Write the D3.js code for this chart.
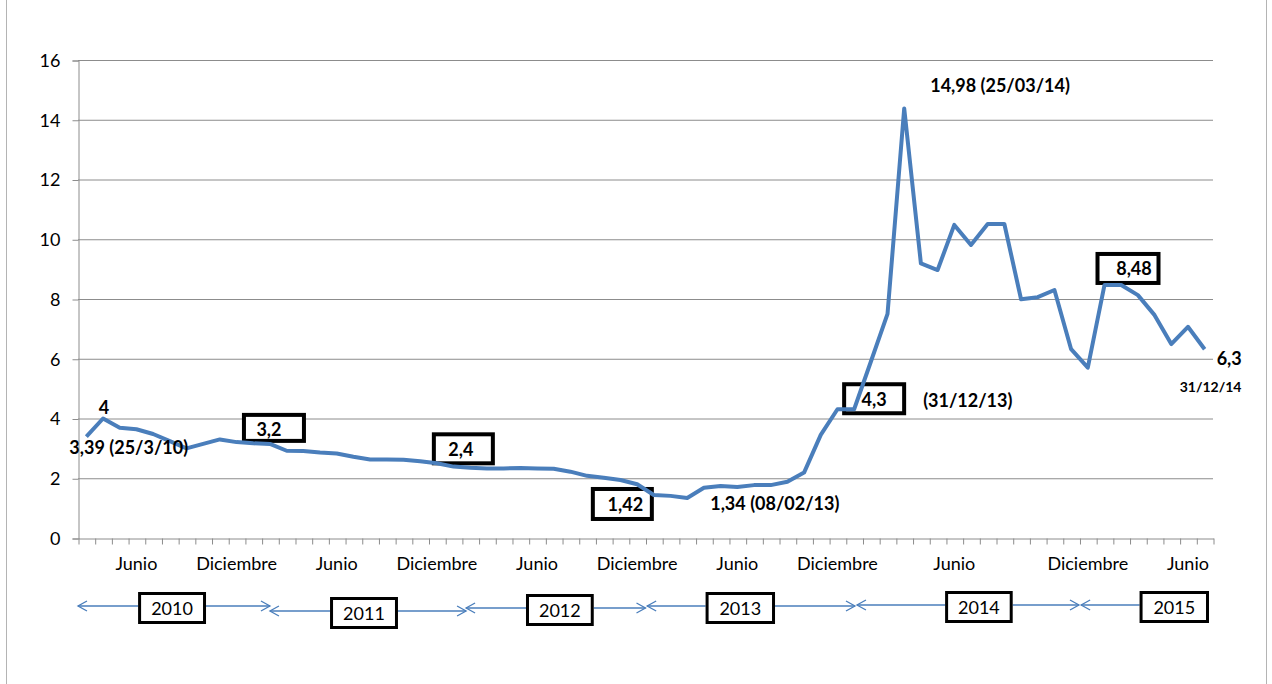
<!DOCTYPE html>
<html>
<head>
<meta charset="utf-8">
<script src="https://cdn.jsdelivr.net/npm/d3@7"></script>
<style>
  body { margin: 0; background: #fff; }
  text { font-family: Lato, "Open Sans", sans-serif; }
</style>
</head>
<body>
<script>
// monthly values, march 2010 .. (one per category on the axis)
const values = [
  3.39, 4.0, 3.69, 3.64, 3.48, 3.24, 3.0, 3.15, 3.3, 3.21,
  3.17, 3.15, 2.92, 2.91, 2.86, 2.83, 2.72, 2.63, 2.63, 2.62,
  2.57, 2.5, 2.39, 2.35, 2.33, 2.33, 2.34, 2.33, 2.32, 2.22,
  2.08, 2.02, 1.94, 1.8, 1.44, 1.41, 1.34, 1.68, 1.74, 1.71,
  1.77, 1.77, 1.88, 2.19, 3.45, 4.31, 4.31, 5.9, 7.5, 14.38,
  9.19, 8.97, 10.48, 9.81, 10.51, 10.51, 7.99, 8.06, 8.3, 6.32,
  5.7, 8.47, 8.47, 8.13, 7.46, 6.49, 7.07, 6.32
];
const junioIdx = [3, 15, 27, 39, 52, 66];
const diciembreIdx = [9, 21, 33, 45, 60];
const yTicks = [0, 2, 4, 6, 8, 10, 12, 14, 16];
const years = ["2010", "2011", "2012", "2013", "2014", "2015"];

const monthLabels = values.map(() => "");
junioIdx.forEach(i => monthLabels[i] = "Junio");
diciembreIdx.forEach(i => monthLabels[i] = "Diciembre");

// annotation layout (anchored to a point of the series)
const notes = [
  {i: 1, dx: 1, dy: -5, anchor: "middle", text: "4"},
  {i: 0, dx: -17, dy: 17, anchor: "start", text: "3,39 (25/3/10)"},
  {i: 36, dx: 23, dy: 12, anchor: "start", text: "1,34 (08/02/13)"},
  {i: 49, dx: 26, dy: -16, anchor: "start", text: "14,98 (25/03/14)"},
  {i: 46, dx: 69, dy: -2, anchor: "start", text: "(31/12/13)"},
  {i: 67, dx: 12, dy: 16, anchor: "start", text: "6,3"},
  {i: 67, dx: -25, dy: 43, anchor: "start", text: "31/12/14", size: 14}
];
const boxes = [
  {i: 11, dx: -28, dy: -31, w: 64, h: 30, tx: 27, ty: 23, text: "3,2"},
  {i: 21, dx: -5, dy: -31, w: 63, h: 33, tx: 29, ty: 24, text: "2,4"},
  {i: 34, dx: -63, dy: -8, w: 63, h: 34, tx: 34.5, ty: 24.5, text: "1,42"},
  {i: 46, dx: -12, dy: -27, w: 64, h: 33, tx: 32, ty: 24, text: "4,3"},
  {i: 61, dx: -9, dy: -33, w: 65, h: 33, tx: 38.5, ty: 23, text: "8,48"}
];
// year brackets, in category units along the axis
const yearSpans = [
  {from: 0, b0: 3.6, b1: 7.67, to: 11.5, y: 606, top: 592},
  {from: 11.5, b0: 15.1, b1: 19.17, to: 23.25, y: 611, top: 597},
  {from: 23.25, b0: 26.84, b1: 30.9, to: 34.0, y: 608, top: 594},
  {from: 34.1, b0: 37.6, b1: 41.76, to: 46.55, y: 606, top: 592},
  {from: 46.67, b0: 51.95, b1: 56.0, to: 59.97, y: 605, top: 591},
  {from: 60.1, b0: 63.6, b1: 67.76, to: null, y: 605, top: 591}
];

const width = 1272;
const height = 684;
const plotLeft = 78, plotRight = 1213, plotTop = 60, plotBottom = 538;
const blue = "#4a7ebb";
const gray = "#8c8c8c";

const x = d3.scaleBand()
  .domain(d3.range(values.length))
  .range([plotLeft, plotRight]);
const xc = d3.scaleLinear()
  .domain([0, values.length])
  .range([plotLeft, plotRight]);
const y = d3.scaleLinear()
  .domain([0, 16])
  .range([plotBottom, plotTop]);
const px = i => x(i) + x.bandwidth() / 2;

const svg = d3.select("body")
  .append("svg")
    .attr("width", width)
    .attr("height", height);

svg.append("rect")
  .attr("x", 6.5).attr("y", -5)
  .attr("width", 1260).attr("height", height + 10)
  .attr("fill", "none")
  .attr("stroke", "#b4b4b4");

// gridlines
svg.append("g")
  .selectAll("line")
  .data(yTicks.filter(d => d > 0))
  .enter()
  .append("line")
    .attr("x1", plotLeft).attr("x2", plotRight)
    .attr("y1", d => y(d) + 0.5).attr("y2", d => y(d) + 0.5)
    .attr("stroke", gray);

// y axis
const yAxis = svg.append("g")
  .attr("transform", `translate(${plotLeft + 0.5},0.5)`)
  .call(d3.axisLeft(y).tickValues(yTicks).tickSize(6).tickPadding(12));
yAxis.select(".domain").attr("stroke", gray);
yAxis.selectAll(".tick line").attr("stroke", gray);
yAxis.selectAll(".tick text")
  .attr("font-size", 18)
  .attr("font-family", "Lato, sans-serif")
  .attr("fill", "#000");

// x axis, ticks between categories
const xAxis = svg.append("g")
  .attr("transform", `translate(0.5,${plotBottom + 0.5})`)
  .call(d3.axisBottom(xc).tickValues(d3.range(0, values.length + 1)).tickSize(6).tickSizeOuter(0).tickFormat(""));
xAxis.select(".domain").attr("stroke", gray);
xAxis.selectAll(".tick line").attr("stroke", gray);

svg.append("g")
  .selectAll("text")
  .data(monthLabels.map((t, i) => ({t, i})).filter(d => d.t))
  .enter()
  .append("text")
    .attr("x", d => px(d.i))
    .attr("y", 570)
    .attr("text-anchor", "middle")
    .attr("font-size", 18)
    .text(d => d.t);

// boxed labels (frames under the line)
const bx = svg.append("g");
bx.selectAll("rect")
  .data(boxes)
  .enter()
  .append("rect")
    .attr("x", d => px(d.i) + d.dx + 2)
    .attr("y", d => y(values[d.i]) + d.dy + 2)
    .attr("width", d => d.w - 4)
    .attr("height", d => d.h - 4)
    .attr("fill", "#fff")
    .attr("stroke", "#000")
    .attr("stroke-width", 4);

// series
const line = d3.line()
  .x((d, i) => px(i))
  .y(d => y(d));

svg.append("path")
  .datum(values)
  .attr("d", line)
  .attr("fill", "none")
  .attr("stroke", blue)
  .attr("stroke-width", 4)
  .attr("stroke-linejoin", "round");

bx.selectAll("text")
  .data(boxes)
  .enter()
  .append("text")
    .attr("x", d => px(d.i) + d.dx + d.tx)
    .attr("y", d => y(values[d.i]) + d.dy + d.ty)
    .attr("text-anchor", "middle")
    .attr("font-size", 18)
    .attr("font-weight", "bold")
    .text(d => d.text);

svg.append("g")
  .selectAll("text")
  .data(notes)
  .enter()
  .append("text")
    .attr("x", d => px(d.i) + d.dx)
    .attr("y", d => y(values[d.i]) + d.dy)
    .attr("text-anchor", d => d.anchor)
    .attr("font-size", d => d.size || 18)
    .attr("font-weight", "bold")
    .text(d => d.text);

// year brackets
const yr = svg.append("g");
const head = (g, x0, yy, dir) => {
  g.append("path")
    .attr("d", `M${x0 + dir * 9},${yy - 5}L${x0},${yy}L${x0 + dir * 9},${yy + 5}`)
    .attr("fill", "none")
    .attr("stroke", blue)
    .attr("stroke-width", 1.3);
};
yearSpans.forEach((s, k) => {
  const g = yr.append("g");
  g.append("line")
    .attr("x1", xc(s.from)).attr("x2", xc(s.b0))
    .attr("y1", s.y).attr("y2", s.y)
    .attr("stroke", blue).attr("stroke-width", 1.5);
  head(g, xc(s.from), s.y, 1);
  if (s.to !== null) {
    g.append("line")
      .attr("x1", xc(s.b1)).attr("x2", xc(s.to))
      .attr("y1", s.y).attr("y2", s.y)
      .attr("stroke", blue).attr("stroke-width", 1.5);
    head(g, xc(s.to), s.y, -1);
  }
  g.append("rect")
    .attr("x", xc(s.b0) + 1.5)
    .attr("y", s.top + 1.5)
    .attr("width", xc(s.b1) - xc(s.b0) - 3)
    .attr("height", 29)
    .attr("fill", "#fff")
    .attr("stroke", "#000")
    .attr("stroke-width", 3);
  g.append("text")
    .attr("x", (xc(s.b0) + xc(s.b1)) / 2)
    .attr("y", s.top + 23)
    .attr("text-anchor", "middle")
    .attr("font-size", 18)
    .text(years[k]);
});
</script>
</body>
</html>
